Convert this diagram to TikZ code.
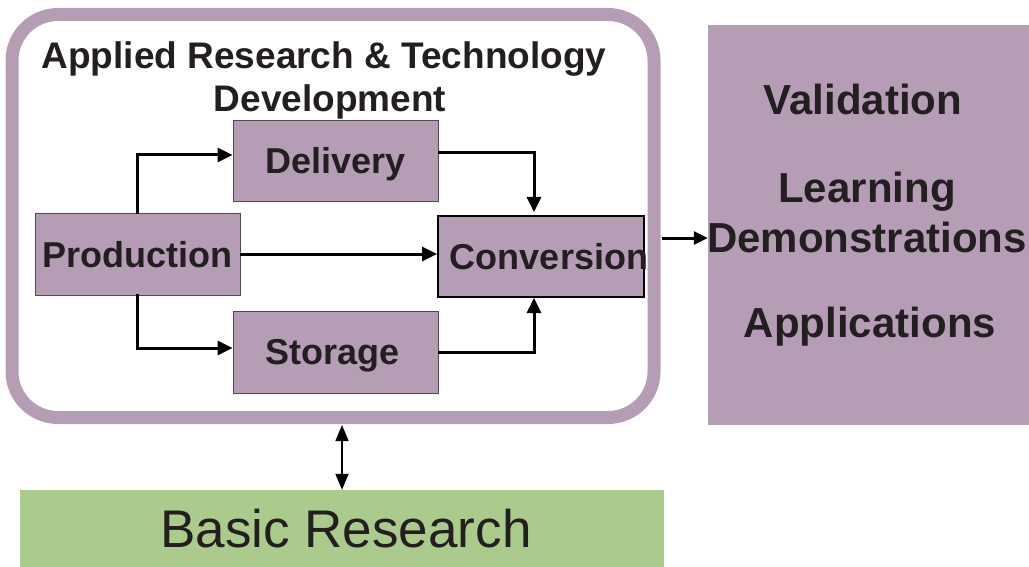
\documentclass[tikz,border=0pt]{standalone}
\usepackage{fontspec}
\setmainfont{Liberation Sans}
\usetikzlibrary{arrows.meta,calc}
\definecolor{mauve}{HTML}{B59DB5}
\definecolor{leaf}{HTML}{ABCB8C}
\definecolor{ink}{HTML}{231F20}
\tikzset{
  procbox/.style={fill=mauve, draw=ink!80, line width=0.8pt, minimum width=205pt, minimum height=82pt, inner sep=0pt,
    font=\bfseries\fontsize{36}{43}\selectfont, text=ink, text depth=0pt},
  flow/.style={line width=3pt, -{Triangle[length=15pt,width=14pt]}},
}
\begin{document}
\begin{tikzpicture}[x=1pt,y=-1pt]
\useasboundingbox (0,0) rectangle (1029,567);
% outer rounded frame
\node[draw=mauve, line width=13pt, rounded corners=46pt, minimum width=642pt, minimum height=403pt, inner sep=0pt] (outer) at (333,216) {};
\node[anchor=north, inner sep=0pt, align=center, text=ink, font=\bfseries\fontsize{37}{43}\selectfont] (title) at (324,41) {Applied Research \& Technology\\\hspace*{12pt}Development};
% process boxes
\node[procbox] (prod) at (137.5,254) {Production};
\node[procbox, minimum height=81pt] (deliv) at (335.5,160.5) {Delivery};
\node[procbox] (stor) at (335.5,352) {\hspace*{-6pt}Storage};
\node[procbox, draw=black, line width=2pt, minimum width=206pt, minimum height=81pt,
  label={[font=\bfseries\fontsize{36}{43}\selectfont, text=ink, text depth=0pt, xshift=8pt]center:Conversion}] (conv) at (541,256.5) {};
% flows
\draw[flow, line cap=rect] (prod.north) |- ([yshift=5.5pt]deliv.west);
\draw[flow, line cap=rect] (prod.south) |- ([yshift=4pt]stor.west);
\draw[flow] (prod.east) -- (prod.east -| conv.west);
\draw[flow, line join=miter] ([yshift=7.5pt]deliv.east) -| ([xshift=-7pt,yshift=3pt]conv.north);
\draw[flow, line join=miter] (stor.east) -| ([xshift=-7pt]conv.south);
% right box
\node[fill=mauve, minimum width=321pt, minimum height=400pt, inner sep=0pt] (right) at (868.5,225) {};
\node[anchor=north, inner sep=0pt, align=center, text=ink, font=\bfseries\fontsize{42}{50}\selectfont] (outcomes) at (867,84)
  {\hspace*{-8pt}Validation\\[38pt]Learning\\Demonstrations\\[35pt]\hspace*{6pt}Applications};
\draw[flow, -{Triangle[length=14pt,width=13pt]}] ([xshift=-46pt,yshift=-13pt]right.west) -- ([yshift=-13pt]right.west);
% basic research
\node[fill=leaf, minimum width=644pt, minimum height=77pt, inner sep=0pt, text=ink, font=\fontsize{53}{60}\selectfont,
  text depth=0pt] (basic) at (342,528.5) {\hspace*{8pt}Basic Research};
\draw[line width=1.5pt, {Triangle[length=16pt,width=13pt]}-{Triangle[length=16pt,width=13pt]}] ([yshift=-1pt]outer.south -| basic.north) -- (basic.north);
\end{tikzpicture}
\end{document}
